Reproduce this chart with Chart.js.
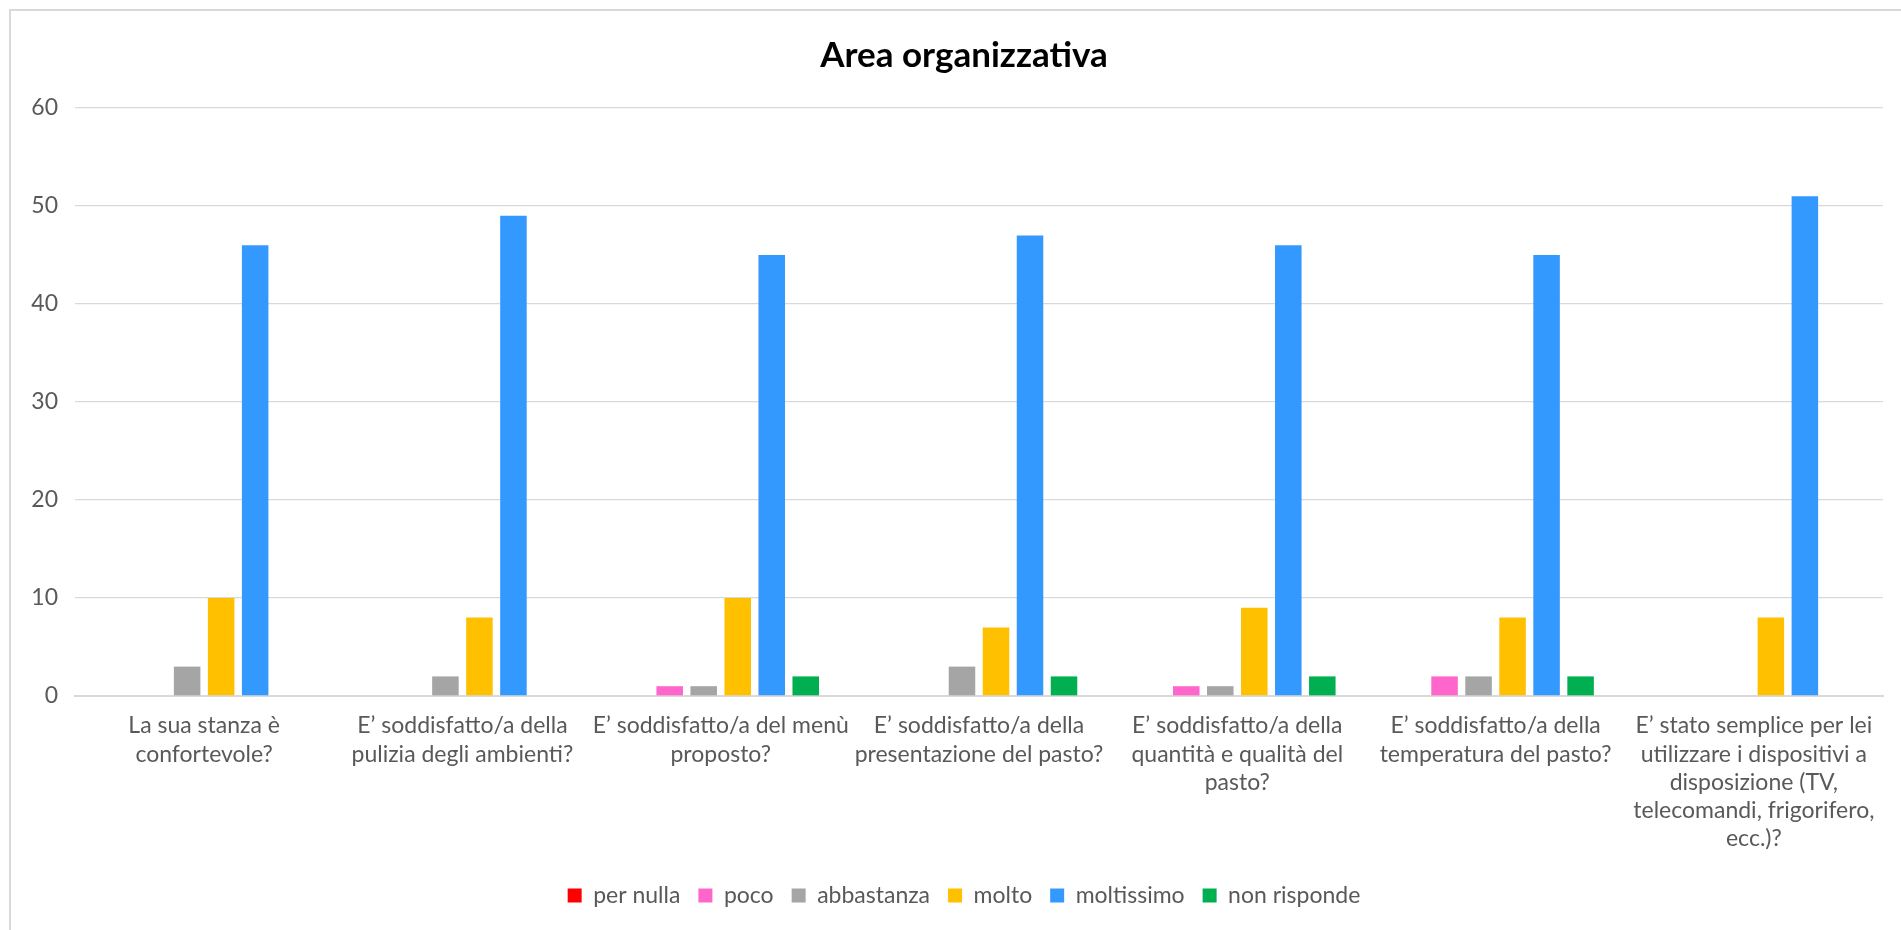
<!DOCTYPE html>
<html>
<head>
<meta charset="utf-8">
<script src="https://cdn.jsdelivr.net/npm/chart.js@4.4.1/dist/chart.umd.min.js"></script>
<style>
  html, body { margin: 0; padding: 0; background: #ffffff; overflow: hidden; }
  #wrap { position: absolute; left: 0; top: 0; width: 1901px; height: 930px; overflow: hidden; }
  #frame { position: absolute; left: 9px; top: 9px; width: 1892px; height: 921px;
           border-left: 2px solid #d9d9d9; border-top: 2px solid #d9d9d9; box-sizing: border-box; pointer-events: none; }
  canvas { position: absolute; left: 0; top: 0; }
</style>
</head>
<body>
<div id="wrap">
  <canvas id="c" width="1929" height="930"></canvas>
  <div id="frame"></div>
</div>
<script>
const chartTitle = "Area organizzativa";
const categories = [
  ["La sua stanza è", "confortevole?"],
  ["E’ soddisfatto/a della", "pulizia degli ambienti?"],
  ["E’ soddisfatto/a del menù", "proposto?"],
  ["E’ soddisfatto/a della", "presentazione del pasto?"],
  ["E’ soddisfatto/a della", "quantità e qualità del", "pasto?"],
  ["E’ soddisfatto/a della", "temperatura del pasto?"],
  ["E’ stato semplice per lei", "utilizzare i dispositivi a", "disposizione (TV,", "telecomandi, frigorifero,", "ecc.)?"]
];
const seriesNames = ["per nulla", "poco", "abbastanza", "molto", "moltissimo", "non risponde"];
const perNulla    = [0, 0, 0, 0, 0, 0, 0];
const poco        = [0, 0, 1, 0, 1, 2, 0];
const abbastanza  = [3, 2, 1, 3, 1, 2, 0];
const molto       = [10, 8, 10, 7, 9, 8, 8];
const moltissimo  = [46, 49, 45, 47, 46, 45, 51];
const nonRisponde = [0, 0, 2, 2, 2, 2, 0];
const seriesColors = ["#FF0000", "#FF66CC", "#A5A5A5", "#FFC000", "#3399FF", "#00B050"];
const yTicks = [0, 10, 20, 30, 40, 50, 60];

const seriesValues = [perNulla, poco, abbastanza, molto, moltissimo, nonRisponde];
const FONT = "Lato, 'Open Sans', sans-serif";
const TEXT = "#595959";

// shift the centred title and legend to the right, as in the original (wider) chart frame
const shiftBlocks = {
  id: "shiftBlocks",
  afterLayout(chart) {
    const d = 45;
    if (chart.titleBlock) chart.titleBlock.left += d;
    if (chart.legend) chart.legend.left += d;
  }
};

new Chart(document.getElementById("c"), {
  type: "bar",
  plugins: [shiftBlocks],
  data: {
    labels: categories,
    datasets: seriesNames.map((n, i) => ({
      label: n,
      data: seriesValues[i],
      backgroundColor: seriesColors[i],
      borderWidth: 0,
      barPercentage: 0.78,
      categoryPercentage: 0.79
    }))
  },
  options: {
    responsive: false,
    animation: false,
    devicePixelRatio: 1,
    layout: { padding: { left: 0, right: 46, top: 35, bottom: 13 } },
    plugins: {
      title: {
        display: true,
        text: chartTitle,
        color: "#000000",
        font: { family: FONT, size: 35, weight: "bold", lineHeight: 1.2 },
        padding: { top: 0, bottom: 31 }
      },
      legend: {
        position: "bottom",
        labels: {
          boxWidth: 14, boxHeight: 14, padding: 18,
          color: TEXT,
          font: { family: FONT, size: 23 }
        }
      },
      tooltip: { enabled: false }
    },
    scales: {
      x: {
        grid: { display: false, drawTicks: false },
        border: { display: true, color: "#d9d9d9", width: 2 },
        ticks: {
          color: TEXT, font: { family: FONT, size: 23, lineHeight: 1.22 },
          maxRotation: 0, minRotation: 0, autoSkip: false, padding: 16
        },
        afterFit: s => { s.height = 170; }
      },
      y: {
        min: 0, max: 60,
        afterBuildTicks: s => { s.ticks = yTicks.map(v => ({ value: v })); },
        grid: { color: "#d9d9d9", lineWidth: 1.3, drawTicks: false },
        border: { display: false },
        ticks: { color: TEXT, font: { family: FONT, size: 23 }, padding: 17 },
        afterFit: s => { s.width = 75; }
      }
    }
  }
});
</script>
</body>
</html>
